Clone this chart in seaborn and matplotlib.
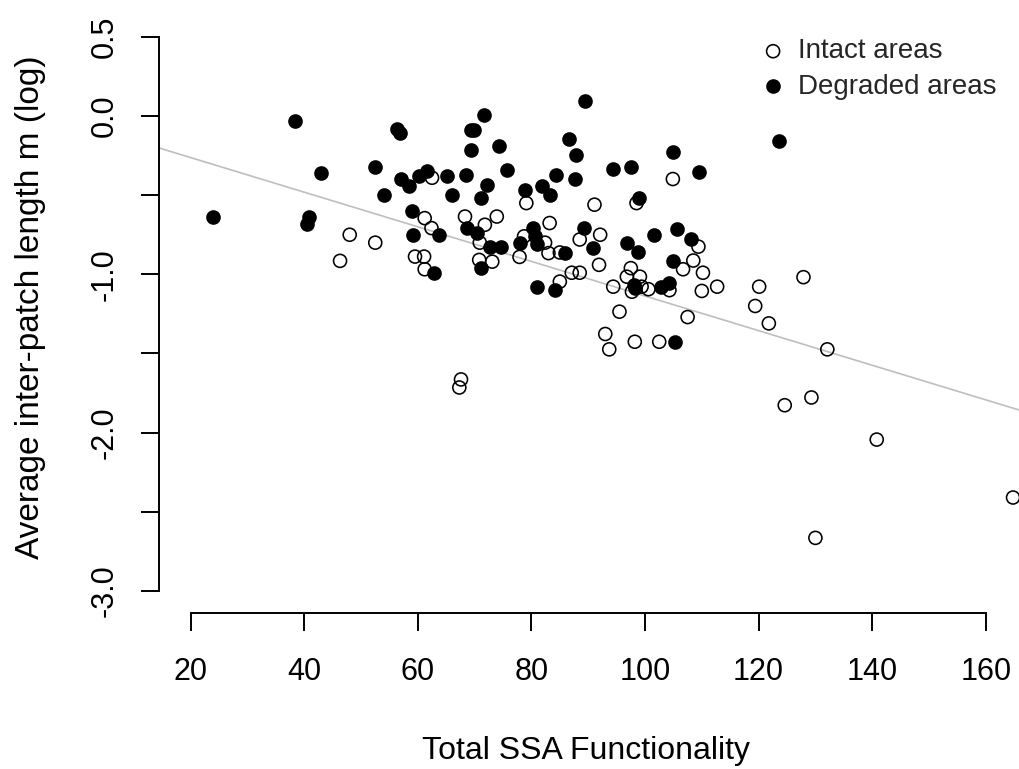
import matplotlib
matplotlib.use("Agg")
import matplotlib.pyplot as plt
import seaborn as sns
import numpy as np
import pandas as pd

# Intact areas: (Total SSA functionality, log average inter-patch length)
intact_x = [48.0, 52.5, 46.3, 62.5, 79.1, 91.1, 61.2, 68.3, 73.9, 62.4,
            71.8, 83.2, 59.5, 61.1, 61.2, 70.9, 70.8, 73.1, 77.9, 78.7,
            82.4, 83.0, 85.0, 87.1, 88.5, 85.0, 88.5, 92.1, 91.9, 104.9,
            98.5, 109.4, 108.5, 106.7, 110.2, 97.5, 96.8, 99.1, 99.4, 97.7,
            100.6, 94.4, 104.3, 110.0, 112.7, 120.1, 95.5, 119.4, 93.0, 93.7,
            98.2, 102.5, 107.5, 121.8, 67.6, 67.3, 124.6, 127.9, 132.1, 129.3,
            140.8, 164.8, 130.0]
intact_y = [-0.750, -0.800, -0.915, -0.390, -0.550, -0.560, -0.645, -0.635, -0.635, -0.708,
            -0.687, -0.676, -0.888, -0.888, -0.968, -0.800, -0.909, -0.920, -0.890, -0.760,
            -0.800, -0.866, -0.862, -0.990, -0.990, -1.046, -0.780, -0.750, -0.940, -0.398,
            -0.550, -0.825, -0.913, -0.968, -0.990, -0.961, -1.015, -1.015, -1.078, -1.110,
            -1.094, -1.078, -1.100, -1.105, -1.078, -1.078, -1.236, -1.200, -1.377, -1.474,
            -1.426, -1.426, -1.270, -1.310, -1.664, -1.715, -1.827, -1.018, -1.474, -1.778,
            -2.044, -2.410, -2.665]

# Degraded areas
degraded_x = [24.0, 38.4, 40.8, 40.5, 43.0, 52.5, 56.35, 56.8, 54.0, 57.05,
              58.5, 58.9, 59.2, 89.4, 71.6, 69.4, 69.9, 74.3, 69.3, 86.6,
              87.9, 75.7, 84.4, 87.6, 65.1, 68.4, 61.6, 60.2, 66.0, 72.2,
              71.2, 78.9, 81.8, 83.2, 63.8, 68.7, 70.4, 72.7, 74.7, 71.2,
              62.8, 77.9, 80.3, 80.6, 80.9, 85.9, 89.2, 90.9, 81.0, 84.1,
              123.6, 104.9, 94.4, 97.5, 109.5, 99.0, 101.5, 105.7, 108.1, 96.9,
              98.8, 104.9, 98.0, 98.3, 102.9, 104.3, 105.2]
degraded_y = [-0.638, -0.030, -0.638, -0.680, -0.360, -0.320, -0.081, -0.110, -0.497, -0.398,
              -0.440, -0.597, -0.750, 0.098, 0.009, -0.090, -0.090, -0.190, -0.216, -0.142,
              -0.244, -0.343, -0.370, -0.396, -0.380, -0.370, -0.350, -0.377, -0.497, -0.434,
              -0.520, -0.465, -0.444, -0.497, -0.750, -0.708, -0.740, -0.825, -0.825, -0.960,
              -0.990, -0.800, -0.708, -0.760, -0.810, -0.866, -0.708, -0.835, -1.078, -1.100,
              -0.155, -0.229, -0.333, -0.322, -0.356, -0.518, -0.750, -0.712, -0.776, -0.800,
              -0.862, -0.913, -1.067, -1.088, -1.078, -1.053, -1.426]

# Fitted line (intercept, slope)
fit_intercept = -0.0439
fit_slope = -0.010932

x_ticks = [20, 40, 60, 80, 100, 120, 140, 160]
y_ticks = [-3.0, -2.5, -2.0, -1.5, -1.0, -0.5, 0.0, 0.5]
y_tick_labels = ["-3.0", "", "-2.0", "", "-1.0", "", "0.0", "0.5"]

sns.set_style("white")
plt.rcParams["font.family"] = ["Liberation Sans", "DejaVu Sans"]

W, H = 1019, 769
fig = plt.figure(figsize=(W / 100, H / 100), dpi=100)
ax_left, ax_bottom, ax_right, ax_top = 159, 613, 1019, 30
ax = fig.add_axes([ax_left / W, 1 - ax_bottom / H,
                   (ax_right - ax_left) / W, (ax_bottom - ax_top) / H])

intact = pd.DataFrame({"x": intact_x, "y": intact_y})
degraded = pd.DataFrame({"x": degraded_x, "y": degraded_y})

ax.axline((0, fit_intercept), slope=fit_slope, color="#bebebe", lw=1.2, zorder=1)

sns.scatterplot(data=intact, x="x", y="y", ax=ax, marker="o", s=88,
                facecolor="none", edgecolor="black", linewidth=1.15,
                label="Intact areas", zorder=3)
sns.scatterplot(data=degraded, x="x", y="y", ax=ax, marker="o", s=88,
                color="black", edgecolor="black", linewidth=1.15,
                label="Degraded areas", zorder=3)

ax.set_xlim(14.42, 165.85)
ax.set_ylim(-3.1396, 0.5435)

for side in ["top", "right"]:
    ax.spines[side].set_visible(False)
ax.spines["left"].set_bounds(-3.0, 0.5)
ax.spines["bottom"].set_bounds(20, 160)
for side in ["left", "bottom"]:
    ax.spines[side].set_linewidth(1.4)
    ax.spines[side].set_color("black")

ax.set_xticks(x_ticks)
ax.set_xticklabels([str(t) for t in x_ticks])
ax.set_yticks(y_ticks)
ax.set_yticklabels(y_tick_labels)
ax.tick_params(axis="both", direction="out", length=13, width=1.4,
               color="black", labelsize=22, labelcolor="black",
               left=True, bottom=True)
ax.tick_params(axis="x", pad=18.5)
ax.tick_params(axis="y", pad=15.5)
plt.setp(ax.get_yticklabels(), rotation=90, va="center", ha="right")

ax.set_xlabel("Total SSA Functionality", fontsize=23, color="black")
ax.set_ylabel("Average inter-patch length m (log)", fontsize=24, color="black")
ax.xaxis.set_label_coords((586 - ax_left) / (ax_right - ax_left),
                          -(736.0 - ax_bottom) / (ax_bottom - ax_top))
ax.yaxis.set_label_coords((46 - ax_left) / (ax_right - ax_left),
                          (ax_bottom - 307) / (ax_bottom - ax_top))

leg = ax.legend(loc="upper left", bbox_to_anchor=(762 / W, 1 - 38.5 / H),
                bbox_transform=fig.transFigure, frameon=False, fontsize=20,
                borderpad=0, borderaxespad=0, handlelength=0.8,
                handletextpad=0.5, labelspacing=0.33, markerscale=1.0)

fig.savefig("out.png", dpi=100)
